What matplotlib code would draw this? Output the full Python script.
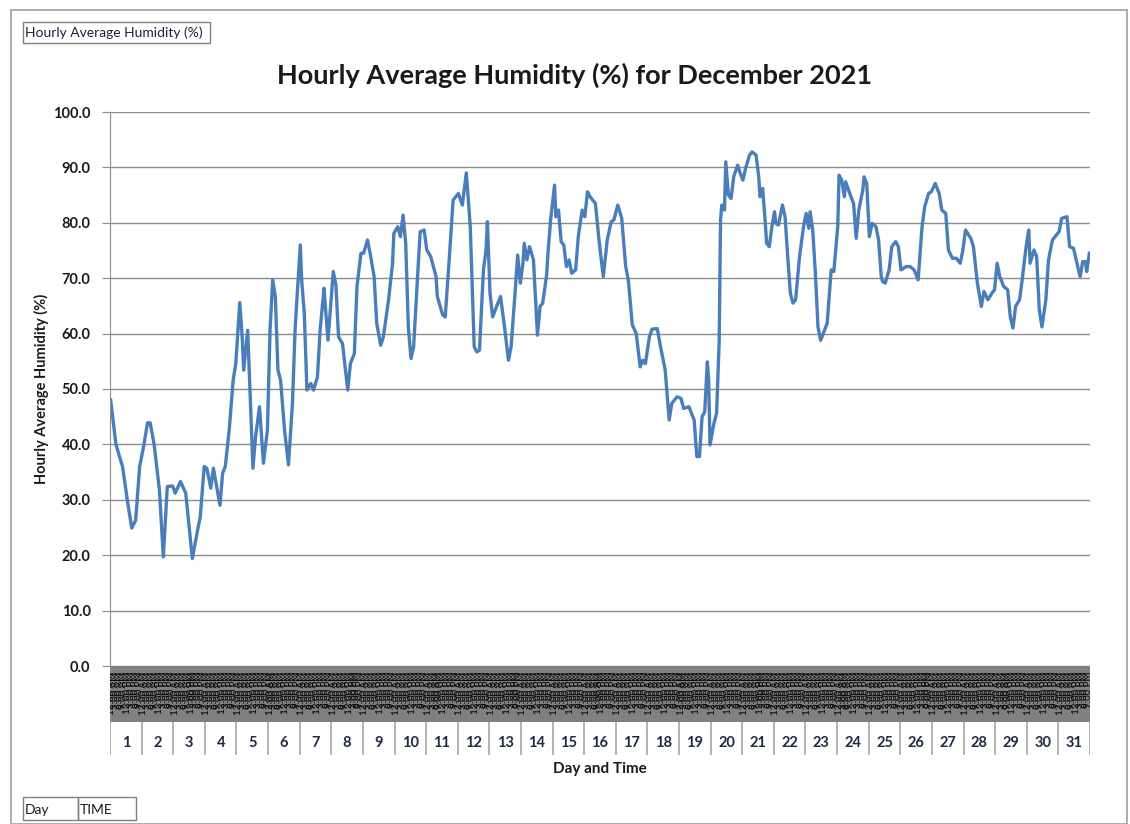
import matplotlib
matplotlib.use("Agg")
import matplotlib.pyplot as plt
from matplotlib.patches import Rectangle

plt.rcParams['font.family'] = ['Lato', 'DejaVu Sans']

# readings (hour of month, humidity %)
hours = [0, 4, 9, 13, 16, 19, 22, 25, 28, 30, 33, 37, 40, 43, 47, 49, 53, 57, 62, 66,
         68, 71, 73, 76, 78, 83, 85, 87, 90, 93, 95, 98, 100, 101, 104, 105, 108, 110, 113, 116,
         119, 121, 123, 125, 127, 129, 132, 135, 138, 140, 142, 144, 145, 147, 149, 152, 154, 157, 159, 162,
         163, 165, 169, 171, 173, 176, 180, 182, 185, 187, 190, 192, 195, 197, 200, 202, 205, 207, 211, 214,
         215, 218, 220, 222, 224, 226, 228, 230, 233, 235, 238, 240, 243, 247, 248, 252, 254, 257, 260, 262,
         264, 267, 270, 271, 273, 276, 278, 280, 283, 285, 286, 288, 290, 293, 296, 299, 302, 304, 307, 309,
         311, 313, 314, 316, 318, 321, 324, 326, 328, 331, 332, 334, 337, 338, 340, 342, 344, 346, 348, 350,
         353, 355, 358, 360, 362, 364, 368, 371, 374, 377, 380, 382, 385, 388, 391, 393, 396, 399, 402, 404,
         406, 409, 411, 415, 417, 421, 424, 426, 430, 433, 435, 439, 440, 443, 445, 447, 449, 451, 453, 454,
         455, 458, 460, 462, 463, 464, 466, 467, 469, 471, 473, 476, 478, 480, 482, 485, 487, 490, 492, 493,
         495, 497, 498, 500, 502, 504, 505, 507, 510, 512, 514, 516, 518, 520, 523, 526, 528, 530, 531, 533,
         535, 537, 539, 541, 544, 547, 549, 552, 553, 555, 557, 558, 562, 564, 566, 568, 571, 572, 574, 576,
         578, 581, 583, 585, 586, 588, 591, 593, 596, 598, 600, 604, 607, 610, 613, 616, 618, 621, 623, 626,
         629, 631, 634, 636, 639, 642, 645, 647, 649, 653, 655, 658, 661, 663, 666, 669, 671, 673, 675, 678,
         681, 683, 685, 687, 690, 692, 695, 697, 698, 701, 703, 705, 707, 710, 712, 715, 717, 720, 722, 726,
         728, 731, 733, 736, 738, 740, 741, 743]
humidity = [48.0, 40.0, 36.0, 29.4, 24.9, 26.3, 36.0, 39.6, 43.9, 43.9, 40.0, 31.8, 19.7, 32.4, 32.5, 31.2, 33.3, 31.2, 19.4, 24.5,
            26.9, 36.0, 35.7, 32.1, 35.7, 29.0, 34.8, 36.0, 42.6, 51.6, 54.6, 65.6, 58.8, 53.4, 60.6, 54.6, 35.7, 41.4, 46.8, 36.6,
            42.6, 60.6, 69.7, 66.7, 53.4, 51.6, 42.6, 36.3, 47.4, 60.6, 68.5, 76.0, 69.7, 63.7, 49.8, 51.0, 49.8, 52.2, 60.6, 68.2,
            64.9, 58.8, 71.2, 68.8, 59.4, 58.2, 49.8, 54.6, 56.4, 68.5, 74.5, 74.5, 76.9, 74.5, 70.3, 61.9, 57.9, 59.4, 66.1, 72.7,
            78.1, 79.3, 77.5, 81.4, 76.3, 61.2, 55.5, 57.6, 70.3, 78.4, 78.7, 75.1, 73.9, 70.3, 66.7, 63.4, 63.0, 73.3, 84.1, 84.7,
            85.3, 83.2, 89.0, 85.9, 79.3, 57.6, 56.7, 57.0, 71.5, 75.1, 80.2, 67.3, 63.0, 64.9, 66.7, 61.2, 55.2, 57.6, 67.3, 74.2,
            69.1, 72.7, 76.3, 73.3, 75.7, 73.3, 59.7, 64.9, 65.5, 70.6, 74.5, 80.5, 86.8, 81.1, 82.3, 76.6, 76.0, 72.1, 73.3, 70.9,
            71.5, 77.5, 82.3, 81.1, 85.6, 84.7, 83.5, 76.3, 70.3, 76.9, 80.2, 80.5, 83.2, 80.8, 72.1, 69.7, 61.6, 60.0, 54.0, 55.2,
            54.6, 59.4, 60.8, 60.9, 58.2, 53.4, 44.4, 47.4, 48.6, 48.3, 46.5, 46.8, 46.2, 44.4, 37.8, 37.8, 45.0, 45.9, 54.9, 51.6,
            39.9, 43.8, 45.6, 58.8, 80.5, 83.2, 82.3, 91.0, 85.0, 84.4, 88.3, 90.4, 88.9, 87.7, 89.8, 92.2, 92.8, 92.2, 88.3, 84.7,
            86.2, 79.9, 76.3, 75.7, 79.3, 82.0, 79.9, 79.6, 83.2, 81.1, 73.9, 67.3, 65.5, 66.1, 73.9, 79.3, 81.7, 79.0, 82.0, 78.7,
            70.9, 61.2, 58.8, 60.0, 61.9, 71.5, 71.2, 79.3, 88.6, 87.7, 84.7, 87.4, 84.7, 83.5, 77.2, 82.3, 85.9, 88.3, 87.1, 77.5,
            79.9, 79.3, 76.9, 70.3, 69.4, 69.1, 71.5, 75.7, 76.6, 75.7, 71.5, 72.1, 72.1, 71.5, 69.7, 79.3, 82.9, 85.3, 85.6, 87.1,
            85.3, 82.3, 81.7, 75.1, 73.6, 73.6, 72.7, 75.1, 78.7, 77.2, 75.7, 69.1, 64.9, 67.6, 66.1, 67.3, 67.9, 72.7, 70.3, 68.5,
            67.9, 63.0, 61.0, 64.9, 66.1, 69.7, 75.7, 78.7, 72.7, 75.1, 73.9, 64.3, 61.2, 66.1, 73.3, 76.9, 77.5, 78.4, 80.8, 81.1,
            75.7, 75.4, 73.3, 70.3, 73.0, 73.0, 71.2, 74.5]

days = list(range(1, 32))
time_labels = ["12:00 AM", "3:00 AM", "6:00 AM", "9:00 AM", "12:00 PM", "3:00 PM", "6:00 PM", "9:00 PM"]
y_ticks = [0, 10, 20, 30, 40, 50, 60, 70, 80, 90, 100]

W, H = 1130, 824
n_hours = 24 * len(days)


def fbox(x0, y0, x1, y1):
    # pixel box (top-left origin) -> figure fraction rect
    return [x0 / W, 1 - y1 / H, (x1 - x0) / W, (y1 - y0) / H]


fig = plt.figure(figsize=(W / 100, H / 100), dpi=100)
grid_c = '#8c8c8c'
txt_c = '#1a1a1a'

# outer chart border
fig.add_artist(Rectangle((11 / W, 0), (W - 14) / W, 1 - 10 / H, transform=fig.transFigure,
                         fill=False, ec='#a0a0a0', lw=1.2))

# main plot
ax = fig.add_axes(fbox(110, 112, 1090, 666))
ax.plot([h + 0.5 for h in hours], humidity, color='#4a7ebb', lw=2.4, solid_joinstyle='round')
ax.set_xlim(0, n_hours)
ax.set_ylim(0, 100)
ax.set_yticks(y_ticks)
ax.set_yticklabels([f"{v:.1f}" for v in y_ticks], fontsize=10.5, fontweight='bold', color=txt_c)
ax.tick_params(axis='y', length=6, color=grid_c, pad=8)
ax.set_xticks([])
for s in ['top', 'right', 'bottom']:
    ax.spines[s].set_visible(False)
ax.spines['left'].set_color(grid_c)
ax.yaxis.grid(True, color=grid_c, lw=1.0)
ax.set_axisbelow(True)
ax.set_ylabel("Hourly Average Humidity (%)", fontsize=10.5, fontweight='bold', color=txt_c, labelpad=3)

# gray band of rotated time labels
band = fig.add_axes(fbox(110, 666, 1090, 722))
band.set_facecolor('#808080')
band.set_xlim(0, n_hours)
band.set_ylim(0, 1)
band.set_xticks([])
band.set_yticks([])
for s in band.spines.values():
    s.set_visible(False)
band.spines['left'].set_visible(True)
band.spines['left'].set_color(grid_c)
step = 24 // len(time_labels)
for d in range(len(days)):
    for k, lab in enumerate(time_labels):
        band.text(d * 24 + k * step + 1.5, 0.9, lab, rotation=90, fontsize=7, color='black',
                  ha='center', va='top', clip_on=True)

# day cells
dax = fig.add_axes(fbox(110, 722, 1090, 755))
dax.set_xlim(0, n_hours)
dax.set_ylim(0, 1)
dax.set_xticks([])
dax.set_yticks([])
for s in dax.spines.values():
    s.set_visible(False)
for d in days:
    dax.axvline((d - 1) * 24, color='#a6a6a6', lw=1.2)
    dax.text((d - 0.5) * 24, 0.35, str(d), ha='center', va='center', fontsize=10.5,
             fontweight='bold', color='#1f2a44')
dax.axvline(n_hours, color='#a6a6a6', lw=1.2)
dax.set_xlabel("Day and Time", fontsize=11, fontweight='bold', color=txt_c, labelpad=5)

# title
fig.text(575 / W, 1 - 75 / H, "Hourly Average Humidity (%) for December 2021", ha='center', va='center',
         fontsize=19.5, fontweight='bold', color=txt_c)

# pivot field buttons
fig.add_artist(Rectangle((23 / W, 1 - 43 / H), 187 / W, 21 / H, transform=fig.transFigure,
                         fill=False, ec='#808080', lw=1))
fig.text(25 / W, 1 - 32.5 / H, "Hourly Average Humidity (%)", fontsize=10, color='#1f1f3f', va='center')
fig.add_artist(Rectangle((23 / W, 1 - 820 / H), 55 / W, 23 / H, transform=fig.transFigure,
                         fill=False, ec='#808080', lw=1))
fig.add_artist(Rectangle((78 / W, 1 - 820 / H), 58 / W, 23 / H, transform=fig.transFigure,
                         fill=False, ec='#808080', lw=1))
fig.text(25 / W, 1 - 810 / H, "Day", fontsize=10, color=txt_c, va='center')
fig.text(80 / W, 1 - 810 / H, "TIME", fontsize=10, color=txt_c, va='center')

fig.savefig("out.png", dpi=100)
